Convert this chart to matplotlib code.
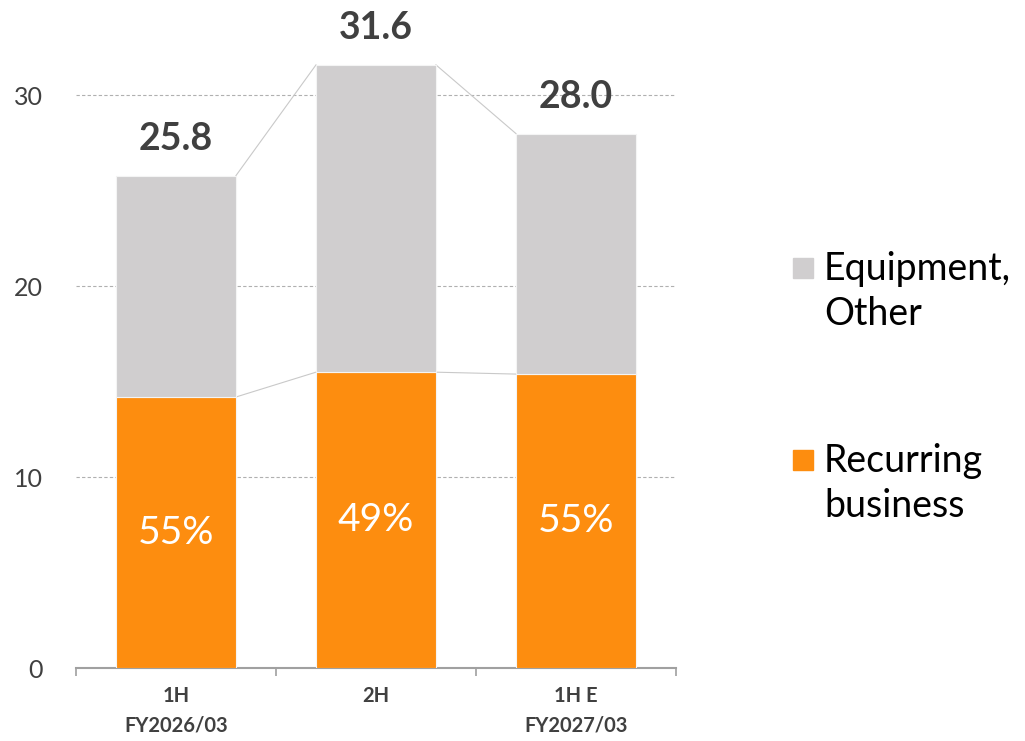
import matplotlib.pyplot as plt
from matplotlib.patches import Rectangle

plt.rcParams['font.family'] = ['Lato', 'DejaVu Sans']

# sales split by half-year (billion yen)
periods = ['1H\nFY2026/03', '2H', '1H E\nFY2027/03']
recurring = [14.2, 15.5, 15.4]
equipment = [11.6, 16.1, 12.6]
totals = [25.8, 31.6, 28.0]
shares = ['55%', '49%', '55%']

orange = '#FD8D0F'
grey = '#D0CECF'
txt = '#404040'

fig = plt.figure(figsize=(10.25, 7.41), dpi=100)
ax = fig.add_axes([0.0741, 0.0985, 0.5854, 0.9015])

x = range(len(periods))
w = 0.6
ax.bar(x, recurring, width=w, color=orange, edgecolor='#F4F4F4', linewidth=0.8, zorder=3)
ax.bar(x, equipment, width=w, bottom=recurring, color=grey, edgecolor='#F4F4F4',
       linewidth=0.8, zorder=3)

# thin connector lines between neighbouring bars
for i in range(len(periods) - 1):
    for vals in (totals, recurring):
        ax.plot([i + w / 2, i + 1 - w / 2], [vals[i], vals[i + 1]],
                color='#C9C9C9', lw=0.8, zorder=2)

for i in x:
    ax.annotate(f'{totals[i]:.1f}', (i, totals[i]), xytext=(0, 14),
                textcoords='offset points', ha='center', va='bottom',
                fontsize=27, fontweight='bold', color=txt, annotation_clip=False)
    ax.text(i, recurring[i] / 2, shares[i], ha='center', va='center',
            fontsize=28, color='white', zorder=4)

ax.set_xlim(-0.5, 2.5)
ax.set_ylim(0, 35)
ax.set_yticks([0, 10, 20, 30])
ax.yaxis.grid(True, linestyle=(0, (3, 2)), color='#B0B0B0', lw=0.8, zorder=0)
ax.tick_params(axis='y', length=0, pad=24, labelsize=18, labelcolor=txt)

# category labels between boundary ticks
ax.set_xticks([-0.5, 0.5, 1.5, 2.5])
ax.set_xticklabels([])
ax.tick_params(axis='x', length=6, width=1.2, color='#A0A0A0', direction='out')
ax.set_xticks(list(x), minor=True)
ax.set_xticklabels(periods, minor=True, fontsize=14.5, fontweight='bold', color=txt,
                   linespacing=1.6)
ax.tick_params(axis='x', which='minor', length=0, pad=13)

for s in ('top', 'right', 'left'):
    ax.spines[s].set_visible(False)
ax.spines['bottom'].set_color('#A0A0A0')
ax.spines['bottom'].set_linewidth(1.5)

# legend on the right: (colour, lines, square bottom, first baseline)
legend_items = [(grey, ['Equipment,', 'Other'], 0.6248, 0.6221),
                (orange, ['Recurring', 'business'], 0.3657, 0.3630)]
for col, lines, sq, base in legend_items:
    fig.add_artist(Rectangle((0.7737, sq), 0.0195, 0.027,
                             transform=fig.transFigure, color=col))
    for k, line in enumerate(lines):
        fig.text(0.8039, base - k * 0.0607, line, fontsize=27, color='black',
                 va='baseline', ha='left')

fig.savefig('out.png', dpi=100)
